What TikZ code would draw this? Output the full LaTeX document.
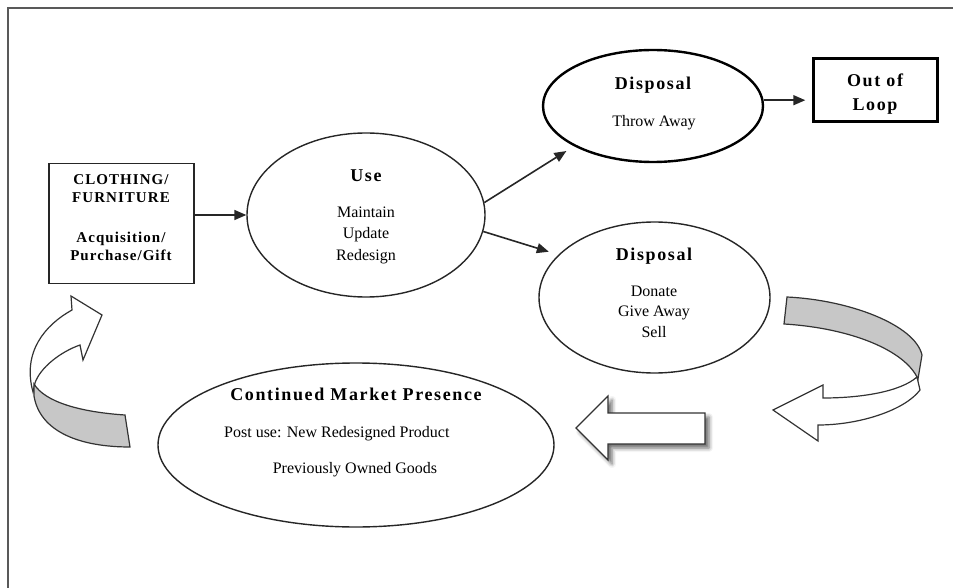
\documentclass[tikz,border=0pt]{standalone}
\usepackage{fontspec}
\setmainfont{Liberation Serif}
\newfontfamily\headfont[LetterSpace=9]{Liberation Serif}
\newfontfamily\boxfont[LetterSpace=7]{Liberation Serif}
\usetikzlibrary{arrows.meta,shapes.geometric,shadows.blur}

\tikzset{
  every picture/.style={x=1pt,y=-1pt},
  thinline/.style={line width=1.4pt,draw=black!85},
  thickline/.style={line width=2.4pt,draw=black},
  oval/.style={ellipse,inner sep=0pt,thinline,fill=white},
  boxnode/.style={rectangle,inner sep=0pt,thinline,fill=white},
  txt/.style={inner sep=0pt,anchor=base,font=\fontsize{16}{19}\selectfont},
  head/.style={inner sep=0pt,anchor=base,font=\fontsize{18}{21}\selectfont\headfont\bfseries},
  boxhead/.style={inner sep=0pt,anchor=base,font=\fontsize{15}{18}\selectfont\boxfont\bfseries},
  link/.style={line width=1.6pt,draw=black!85,-{Triangle[length=12pt,width=10pt]}},
  ribbon/.style={line width=1.2pt,draw=black!80,line join=miter},
  bandfill/.style={fill=black!22},
}

\begin{document}
\begin{tikzpicture}
\useasboundingbox (0,0) rectangle (953,588);

% outer frame (right and bottom edges fall outside the page)
\draw[line width=2pt,draw=black!65] (8,8) rectangle (962,596);

% ---- nodes -------------------------------------------------------------
\node[boxnode,minimum width=145pt,minimum height=120pt] (src) at (121.5,223.5) {};
\node[boxhead] (srcA) at (121,185) {CLOTHING/};
\node[boxhead] (srcB) at (121,203) {FURNITURE};
\node[boxhead] (srcC) at (121,243) {Acquisition/};
\node[boxhead] (srcD) at (121,261) {Purchase/Gift};

\node[oval,minimum width=238pt,minimum height=164pt] (use) at (366,215) {};
\node[head] (useT) at (366,182) {Use};
\node[txt] (useA) at (366,218) {Maintain};
\node[txt] (useB) at (366,239) {Update};
\node[txt] (useC) at (366,260) {Redesign};

\node[oval,thickline,minimum width=220pt,minimum height=112pt] (dispA) at (653,106) {};
\node[head] (dispAT) at (653,90) {Disposal};
\node[txt] (dispAX) at (654,127) {Throw Away};

\node[boxnode,thickline,minimum width=124pt,minimum height=63pt] (out) at (875.5,90) {};
\node[head] (outA) at (875,87) {Out of};
\node[head] (outB) at (875,111) {Loop};

\node[oval,minimum width=231pt,minimum height=151pt] (dispB) at (654.5,297.5) {};
\node[head] (dispBT) at (654,260) {Disposal};
\node[txt] (dispBA) at (654,296) {Donate};
\node[txt] (dispBB) at (654,316) {Give Away};
\node[txt] (dispBC) at (654,337) {Sell};

\node[oval,minimum width=396pt,minimum height=164pt] (cmp) at (356,445) {};
\node[head] (cmpT) at (356,400) {Continued Market Presence};
\node[txt,anchor=base west] (cmpA) at (224,437) {Post use: New Redesigned Product};
\node[txt] (cmpB) at (355,473) {Previously Owned Goods};

% ---- connectors --------------------------------------------------------
\draw[link] (use.west -| src.east) -- (use.west);
\draw[link,shorten >=9pt] (use.6) -- (dispA.207);
\draw[link,shorten >=10pt] (use.352) -- (dispB.156);
\draw[link,shorten >=7pt] (dispA.3) -- (dispA.3 -| out.west);

% ---- straight block arrow pointing back to the market ------------------
\draw[ribbon,fill=white,
      blur shadow={shadow xshift=4pt,shadow yshift=-4pt,shadow blur radius=4pt,shadow opacity=60}]
  (576,428) -- (608,396) -- (608,413) -- (705,413) -- (705,444)
  -- (608,444) -- (608,460) -- cycle;

% ---- curved arrow on the right (ribbon turning back to the left) -------
\draw[ribbon,fill=white]
  (917,377) .. controls (900,392) and (860,398) .. (823,398)
  -- (823,385) -- (773,410) -- (818,441) -- (818,425)
  .. controls (860,425) and (905,410) .. (920,390) -- cycle;
\draw[ribbon,bandfill]
  (787,297) .. controls (850,300) and (915,325) .. (922,355)
  -- (918,379) .. controls (905,350) and (850,328) .. (784,324) -- cycle;

% ---- curved arrow on the left (ribbon rising to the source box) --------
\draw[ribbon,fill=white]
  (33,392) .. controls (22,352) and (45,325) .. (72,310)
  -- (71,296) -- (102,315) -- (83,360) -- (80,345)
  .. controls (60,352) and (40,368) .. (35,383) -- cycle;
\draw[ribbon,bandfill]
  (34,384) .. controls (45,402) and (80,412) .. (125,415)
  -- (130,447) .. controls (80,447) and (40,432) .. (34,396) -- cycle;

\end{tikzpicture}
\end{document}
